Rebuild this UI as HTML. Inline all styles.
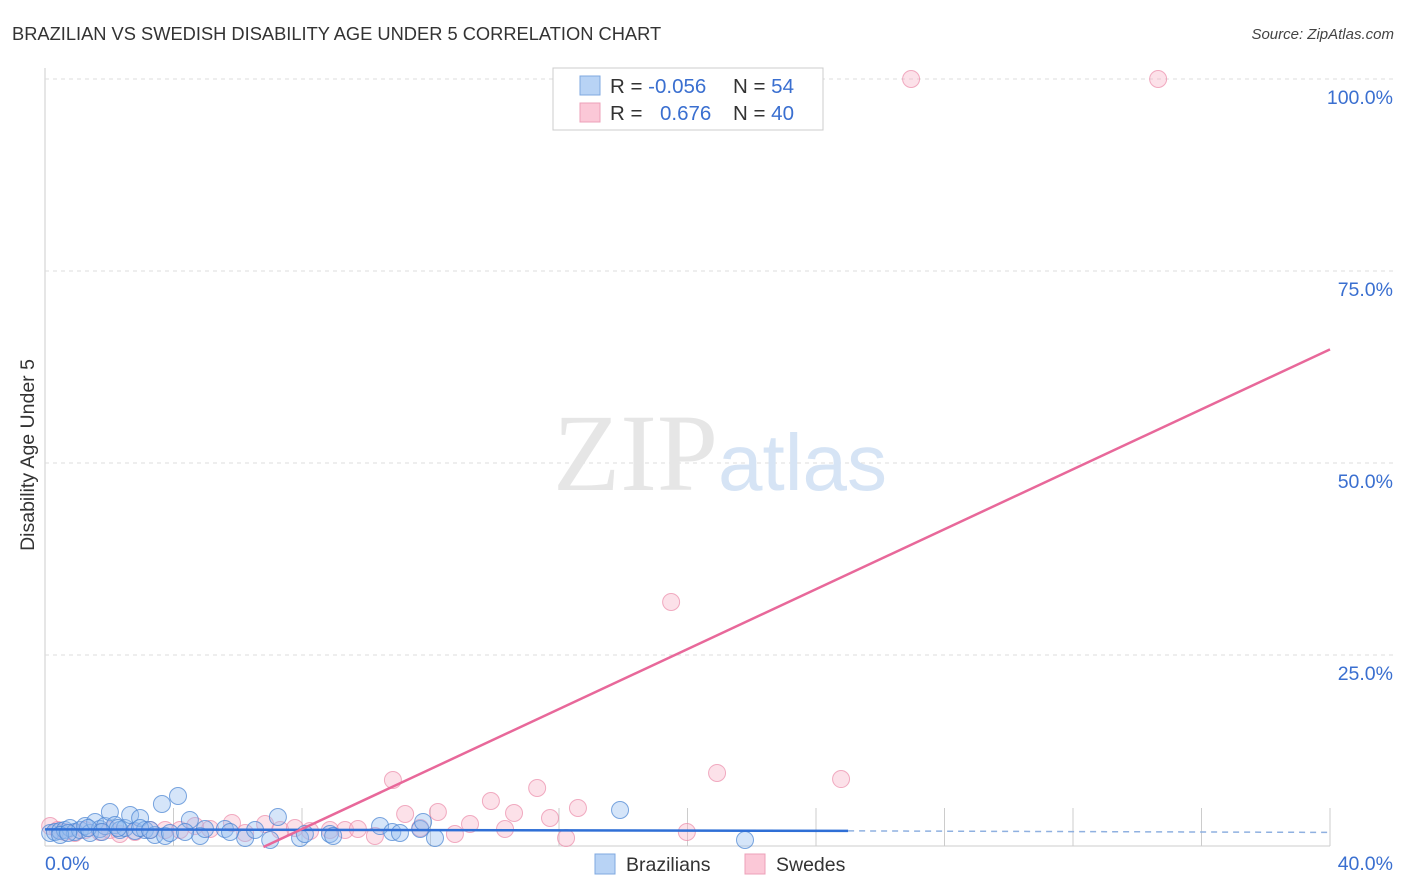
<!DOCTYPE html>
<html><head><meta charset="utf-8"><style>
body{margin:0;background:#fff;font-family:"Liberation Sans",sans-serif;}
svg{display:block}
</style></head><body>
<svg id="c" width="1406" height="892">
<text x="12" y="40" font-size="18.3" fill="#333">BRAZILIAN VS SWEDISH DISABILITY AGE UNDER 5 CORRELATION CHART</text>
<text x="1394" y="39" font-size="15" fill="#444" font-style="italic" text-anchor="end">Source: ZipAtlas.com</text>
<text transform="translate(34,455) rotate(-90)" font-size="19.5" fill="#333" text-anchor="middle">Disability Age Under 5</text>
<g id="grid"></g>
<text x="553" y="490" font-size="110" fill="#e6e6e6" font-family="Liberation Serif,serif">ZIP</text>
<text x="718" y="490" font-size="80" fill="#d6e4f5">atlas</text>
<g id="pts"></g>
<g id="lines"></g>
<g>
<rect x="553" y="68" width="270" height="62" fill="#fff" stroke="#ccc"/>
<rect x="580" y="76" width="20" height="19" fill="#b8d3f5" stroke="#7fa8e0"/>
<rect x="580" y="103" width="20" height="19" fill="#fbc8d7" stroke="#eda0b8"/>
<text x="610" y="93" font-size="20.5" fill="#333">R = <tspan fill="#3a6fd0">-0.056</tspan></text>
<text x="733" y="93" font-size="20.5" fill="#333">N = <tspan fill="#3a6fd0">54</tspan></text>
<text x="610" y="120" font-size="20.5" fill="#333">R = <tspan fill="#3a6fd0" x="660">0.676</tspan></text>
<text x="733" y="120" font-size="20.5" fill="#333">N = <tspan fill="#3a6fd0">40</tspan></text>
</g>
<g>
<rect x="595" y="854" width="20" height="20" fill="#b8d3f5" stroke="#7fa8e0"/>
<text x="626" y="871" font-size="19.5" fill="#333">Brazilians</text>
<rect x="745" y="854" width="20" height="20" fill="#fbc8d7" stroke="#eda0b8"/>
<text x="776" y="871" font-size="19.5" fill="#333">Swedes</text>
</g>
</svg>
<script>
const yTicks=[25,50,75,100];
const yTickLabels=["25.0%","50.0%","75.0%","100.0%"];
const xTickLabels=["0.0%","40.0%"];
const blueX=[0.16,0.31,0.47,0.62,0.78,0.93,1.09,1.25,1.4,1.56,1.71,1.87,2.02,2.18,2.33,2.49,2.65,2.8,2.96,3.11,3.42,3.64,3.74,3.89,4.14,4.51,4.83,4.98,5.6,6.23,6.54,7.01,7.25,7.94,8.87,8.97,10.43,10.81,11.68,11.77,12.14,17.9,21.79,0.47,0.72,1.34,1.77,2.27,2.96,3.27,4.36,5.76,8.09,11.05];
const blueY=[1.82,1.95,2.08,2.21,2.47,1.95,2.21,2.73,1.82,3.26,2.34,2.73,4.56,2.86,2.21,2.47,4.17,2.08,3.78,2.21,1.56,5.6,1.43,1.82,6.64,3.52,1.43,2.34,2.34,1.17,2.21,0.91,3.91,1.17,1.69,1.43,2.73,1.95,2.34,3.26,1.17,4.82,0.91,1.56,1.82,2.47,1.95,2.47,2.47,2.21,1.95,1.95,1.69,1.82];
const pinkX=[0.16,0.4,0.62,0.93,1.25,1.71,2.02,2.33,2.8,3.27,3.74,4.2,4.67,5.14,5.82,6.23,6.85,7.32,7.78,8.25,8.87,9.34,9.74,10.27,10.83,11.21,11.68,12.23,12.76,13.23,13.88,14.32,14.6,15.32,15.72,16.22,16.59,19.49,19.98,20.92,24.78,26.96,34.65];
const pinkY=[2.73,2.21,1.95,1.82,2.21,1.95,2.21,1.69,1.95,2.21,2.21,2.21,2.73,2.34,3.13,1.82,2.99,2.21,2.47,2.08,2.21,2.21,2.34,1.43,8.72,4.3,2.47,4.56,1.69,2.99,5.99,2.34,4.43,7.68,3.78,1.17,5.08,31.9,1.95,9.64,8.85,100,100];
const blueFit=[[0,2.3],[25,2.1],[40,1.9]];
const pinkFit=[[6.8,0],[40,64.8]];
const X=v=>45+v*32.125, Y=v=>847-v*7.68;
const NS="http://www.w3.org/2000/svg";
function mk(t,a,p){const e=document.createElementNS(NS,t);for(const k in a)e.setAttribute(k,a[k]);p.appendChild(e);return e;}
const g=document.getElementById('grid');
const ax=mk('line',{x1:45,y1:68,x2:45,y2:846,stroke:'#ccc'},g);


const bx=mk('line',{x1:45,y1:846,x2:1330,y2:846,stroke:'#ccc'},g);


yTicks.forEach((v,i)=>{
 const l=mk('line',{x1:45,y1:Y(v),x2:1393,y2:Y(v),stroke:'#ddd','stroke-dasharray':'4,4'},g);
 
 
 const t=mk('text',{x:1393,y:Y(v)+25,'font-size':19.5,fill:'#3a6fd0','text-anchor':'end'},g);
 t.textContent=yTickLabels[i];
 
 
});
[4,8,12,16,20,24,28,32,36,40].forEach(v=>{
 const l=mk('line',{x1:X(v),y1:808,x2:X(v),y2:846,stroke:'#ccc'},g);
 
 
});
[[0,'start',45],[1,'end',1393]].forEach(([i,a,x])=>{
 const t=mk('text',{x:x,y:870,'font-size':19.5,fill:'#3a6fd0','text-anchor':a},g);
 t.textContent=xTickLabels[i];
 
 
});
const p=document.getElementById('pts');
pinkX.forEach((v,i)=>{
 const c=mk('circle',{cx:X(v),cy:Y(pinkY[i]),r:8.5,fill:'rgba(248,180,200,0.4)',stroke:'rgba(235,140,170,0.7)','stroke-width':1},p);
 
 
});
blueX.forEach((v,i)=>{
 const c=mk('circle',{cx:X(v),cy:Y(blueY[i]),r:8.5,fill:'rgba(150,190,240,0.4)',stroke:'rgba(70,130,210,0.7)','stroke-width':1},p);
 
 
});
const L=document.getElementById('lines');
const b1=mk('line',{x1:X(blueFit[0][0]),y1:Y(blueFit[0][1]),x2:X(blueFit[1][0]),y2:Y(blueFit[1][1]),stroke:'#2f6fd6','stroke-width':2.5},L);


const b2=mk('line',{x1:X(blueFit[1][0]),y1:Y(blueFit[1][1]),x2:X(blueFit[2][0]),y2:Y(blueFit[2][1]),stroke:'#8fb0e0','stroke-width':1.5,'stroke-dasharray':'6,5'},L);


const pl=mk('line',{x1:X(pinkFit[0][0]),y1:Y(pinkFit[0][1]),x2:X(pinkFit[1][0]),y2:Y(pinkFit[1][1]),stroke:'#e8689a','stroke-width':2.5},L);


</script>
</body></html>
